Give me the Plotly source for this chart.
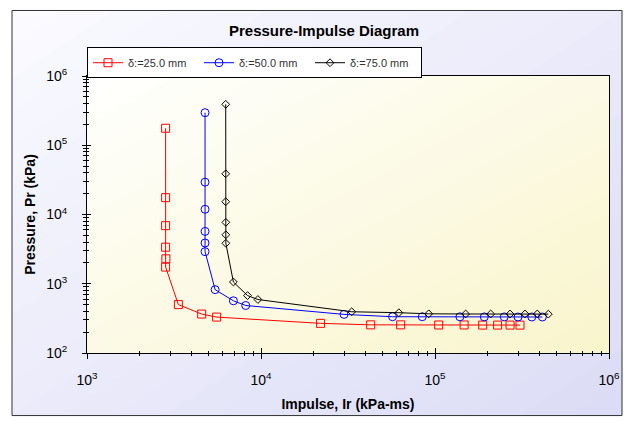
import plotly.graph_objects as go

# ---------------- data ----------------
title_text = "Pressure-Impulse Diagram"
x_title = "Impulse, Ir (kPa-ms)"
y_title = "Pressure, Pr (kPa)"
series_names = ["δ:=25.0 mm", "δ:=50.0 mm", "δ:=75.0 mm"]

impulse_25 = [2830, 2830, 2830, 2830, 2840, 2830, 3350, 4560, 5560,
              22000, 42700, 63500, 105000, 147000, 188000, 229000, 270000, 308000]
pressure_25 = [176000, 17500, 6900, 3370, 2290, 1740, 500, 365, 330,
               268, 255, 255, 254, 254, 253, 253, 253, 253]

impulse_50 = [4770, 4770, 4770, 4770, 4770, 4770, 5450, 6940, 8170,
              30000, 57000, 84500, 139000, 192000, 250000, 300000, 360000, 414000]
pressure_50 = [295000, 29300, 11900, 5700, 3880, 2910, 822, 567, 485,
               361, 334, 334, 333, 332, 332, 331, 331, 331]

impulse_75 = [6270, 6270, 6270, 6280, 6280, 6280, 6940, 8370, 9600,
              33200, 62000, 92000, 150000, 209000, 270000, 329000, 387000, 448000]
pressure_75 = [390000, 38700, 15300, 7700, 5100, 3840, 1060, 675, 592,
               394, 382, 368, 366, 366, 366, 366, 366, 364]

x_tick_vals = [1e3, 1e4, 1e5, 1e6]
x_tick_text = ["10<sup>3</sup>", "10<sup>4</sup>", "10<sup>5</sup>", "10<sup>6</sup>"]
y_tick_vals = [1e2, 1e3, 1e4, 1e5, 1e6]
y_tick_text = ["10<sup>2</sup>", "10<sup>3</sup>", "10<sup>4</sup>", "10<sup>5</sup>", "10<sup>6</sup>"]

# ---------------- style ----------------
FONT = "Liberation Sans, Arial, sans-serif"
W, H = 635, 422
ML, MR, MT, MB = 87, 26, 76, 67
PW, PH = W - ML - MR, H - MT - MB


def px_x(px):
    return (px - ML) / PW


def px_y(py):
    return (H - MB - py) / PH


def lerp(c0, c1, t):
    return "rgb(%d,%d,%d)" % tuple(round(a + (b - a) * t) for a, b in zip(c0, c1))


def diag_gradient(x0, y0, x1, y1, c0, c1, n=24):
    """Diagonal gradient (top-left -> bottom-right) built from half-plane polygons."""
    shapes = []
    for k in range(n):
        t = 2.0 * k / n
        if t <= 1:
            pts = [(t, 0), (1, 0), (1, 1), (0, 1), (0, t)]
        else:
            pts = [(1, t - 1), (1, 1), (t - 1, 1)]
        path = "M " + " L ".join(
            "%.5f,%.5f" % (px_x(x0 + u * (x1 - x0)), px_y(y0 + v * (y1 - y0)))
            for u, v in pts) + " Z"
        shapes.append(dict(type="path", path=path, xref="paper", yref="paper",
                           fillcolor=lerp(c0, c1, k / (n - 1)), line=dict(width=0),
                           layer="below"))
    return shapes


shapes = []
# outer frame
shapes += diag_gradient(12, 10, 622, 418, (250, 250, 255), (220, 220, 246))
shapes.append(dict(type="rect", xref="paper", yref="paper",
                   x0=px_x(12), x1=px_x(622), y0=px_y(10), y1=px_y(418),
                   line=dict(color="#333333", width=1), fillcolor="rgba(0,0,0,0)",
                   layer="below"))
# plot area
shapes += diag_gradient(ML, MT, ML + PW, MT + PH, (255, 255, 253), (249, 245, 205))

colors = ["#ff0000", "#0000ff", "#000000"]
symbols = ["square-open", "circle-open", "diamond-open"]
sizes = [8, 8, 6]
xs = [impulse_25, impulse_50, impulse_75]
ys = [pressure_25, pressure_50, pressure_75]

fig = go.Figure()
for name, x, y, c, s, sz in zip(series_names, xs, ys, colors, symbols, sizes):
    fig.add_trace(go.Scatter(
        x=x, y=y, name=name, mode="lines+markers",
        line=dict(color=c, width=1),
        marker=dict(symbol=s, size=sz, color=c, line=dict(color=c, width=1)),
    ))
# dummy trace for overlay axes (inside ticks)
fig.add_trace(go.Scatter(x=[None], y=[None], xaxis="x2", yaxis="y2",
                         showlegend=False, hoverinfo="skip"))

x_minor = [m * 10 ** e for e in range(3, 6) for m in range(2, 10)]
y_minor = [m * 10 ** e for e in range(2, 6) for m in range(2, 10)]

axis_font = dict(family=FONT, size=14, color="#000000")
title_font = dict(family=FONT, size=14, color="#000000")

common_x = dict(type="log", range=[3, 6], tickmode="array", tickvals=x_tick_vals,
                showgrid=False, zeroline=False, tickcolor="black")
common_y = dict(type="log", range=[2, 6], tickmode="array", tickvals=y_tick_vals,
                showgrid=False, zeroline=False, tickcolor="black")

fig.update_layout(
    width=W, height=H,
    margin=dict(l=ML, r=MR, t=MT, b=MB, pad=0),
    paper_bgcolor="white",
    plot_bgcolor="rgba(0,0,0,0)",
    shapes=shapes,
    title=dict(text="<b>" + title_text + "</b>", x=324 / W, xref="container",
               xanchor="center", y=1 - 31 / H, yanchor="middle",
               font=dict(family=FONT, size=15, color="#000000")),
    xaxis=dict(**common_x, ticktext=x_tick_text, ticks="outside", ticklen=5,
               tickwidth=1, showline=True, linecolor="black", linewidth=1, mirror=True,
               minor=dict(tickmode="array", tickvals=x_minor, ticks="outside",
                          ticklen=2, tickcolor="black", showgrid=False),
               tickfont=axis_font, ticklabelstandoff=9,
               title=dict(text="<b>" + x_title + "</b>", font=title_font, standoff=12)),
    yaxis=dict(**common_y, ticktext=y_tick_text, ticks="outside", ticklen=4,
               tickwidth=1, showline=True, linecolor="black", linewidth=1, mirror=True,
               minor=dict(tickmode="array", tickvals=y_minor, ticks="outside",
                          ticklen=3, tickcolor="black", showgrid=False),
               tickfont=axis_font, ticklabelstandoff=12,
               title=dict(text="<b>" + y_title + "</b>", font=title_font, standoff=7)),
    xaxis2=dict(**common_x, overlaying="x", anchor="y2", side="bottom",
                ticks="inside", ticklen=5, showticklabels=False, showline=False,
                minor=dict(tickmode="array", tickvals=x_minor, ticks="inside",
                           ticklen=2, tickcolor="black", showgrid=False)),
    yaxis2=dict(**common_y, overlaying="y", anchor="x2", side="left",
                ticks="inside", ticklen=4, showticklabels=False, showline=False,
                minor=dict(tickmode="array", tickvals=y_minor, ticks="inside",
                           ticklen=2, tickcolor="black", showgrid=False)),
    legend=dict(orientation="h", x=0, xanchor="left", y=px_y(47), yanchor="top",
                bgcolor="white", bordercolor="black", borderwidth=1,
                font=dict(family=FONT, size=11, color="#333333"),
                entrywidth=66, entrywidthmode="pixels", itemwidth=30,
                tracegroupgap=0),
    showlegend=True,
)

fig.write_html("out.html",
               config={"displayModeBar": False},
               post_script="document.body.style.margin='0';"
                           "document.body.style.overflow='hidden';")
